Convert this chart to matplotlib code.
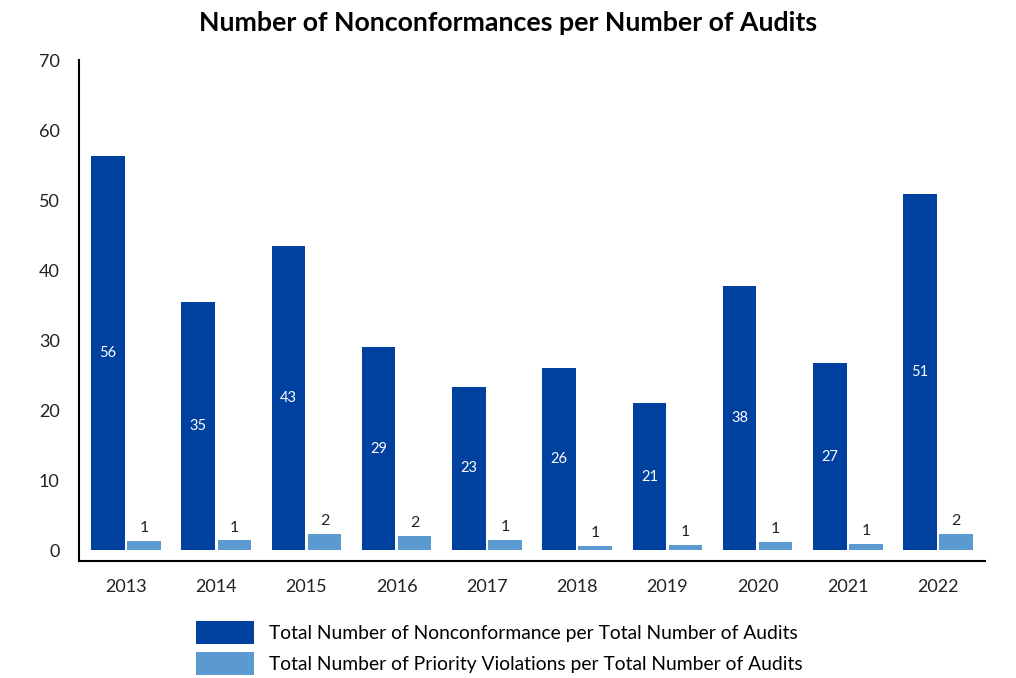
import numpy as np
import matplotlib
matplotlib.use("Agg")
import matplotlib.pyplot as plt

plt.rcParams['font.family'] = ['Lato', 'DejaVu Sans']

years = ['2013', '2014', '2015', '2016', '2017', '2018', '2019', '2020', '2021', '2022']
nonconformance = [56.3, 35.4, 43.4, 29.1, 23.4, 26.1, 21.1, 37.7, 26.7, 50.9]
nonconformance_labels = ['56', '35', '43', '29', '23', '26', '21', '38', '27', '51']
priority = [1.4, 1.45, 2.4, 2.1, 1.5, 0.7, 0.8, 1.25, 0.95, 2.4]
priority_labels = ['1', '1', '2', '2', '1', '1', '1', '1', '1', '2']

dark_blue = '#0041A0'
light_blue = '#5B9AD0'

fig = plt.figure(figsize=(10.16, 6.78), dpi=100)
ax = fig.add_axes([0.0778, 0.1726, 0.8917, 0.7389])

x = np.arange(len(years))
w = 0.37
off = 0.2

b1 = ax.bar(x - off, nonconformance, w, color=dark_blue,
            label='Total Number of Nonconformance per Total Number of Audits')
b2 = ax.bar(x + off, priority, w, color=light_blue,
            label='Total Number of Priority Violations per Total Number of Audits')

# labels inside the dark bars, above the light ones
for xi, v, lab in zip(x, nonconformance, nonconformance_labels):
    ax.text(xi - off, v / 2, lab, ha='center', va='center', color='white', fontsize=10.5)
for xi, v, lab in zip(x, priority, priority_labels):
    ax.text(xi + off, v + 0.8, lab, ha='center', va='bottom', color='#222222', fontsize=11.5)

ax.set_xlim(-0.52, 9.52)
ax.set_ylim(-1.5, 70)
ax.set_yticks(range(0, 71, 10))
ax.set_xticks(x)
ax.set_xticklabels(years)
ax.tick_params(axis='both', length=0, labelsize=13, colors='#222222')
ax.tick_params(axis='x', pad=13)
ax.tick_params(axis='y', pad=14)

for s in ['top', 'right']:
    ax.spines[s].set_visible(False)
ax.spines['left'].set_linewidth(1.5)
ax.spines['bottom'].set_linewidth(1.5)

fig.text(0.5, 0.966, 'Number of Nonconformances per Number of Audits',
         ha='center', va='center', fontsize=19.3, fontweight='bold')

fig.legend(handles=[b1, b2], loc='lower left', bbox_to_anchor=(0.182, -0.013),
           frameon=False, fontsize=13.9, handlelength=3.0, handleheight=1.45,
           handletextpad=0.78, labelspacing=0.45, borderpad=0.1)

fig.savefig('out.png', dpi=100)
